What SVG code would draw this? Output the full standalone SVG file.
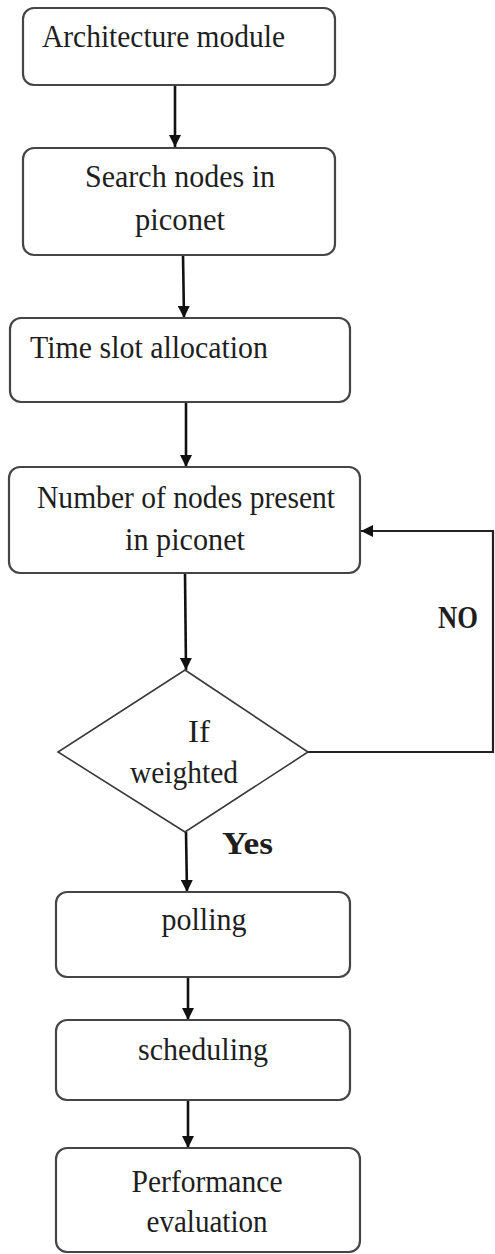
<svg xmlns="http://www.w3.org/2000/svg" width="495" height="1254" viewBox="0 0 495 1254">
<style>
.box{fill:#fff;stroke:#454545;stroke-width:2.2}
.dia{fill:#fff;stroke:#3a3a3a;stroke-width:1.6}
.t{font-family:'Liberation Serif','Times New Roman',serif;font-size:32px;fill:#1e1e1e}
.c{text-anchor:middle}
.b{font-weight:bold}
.ln{fill:none;stroke:#111;stroke-width:2.6}
.lp{fill:none;stroke:#222;stroke-width:2.2}
</style>
<defs>
<marker id="ah" markerUnits="userSpaceOnUse" markerWidth="14" markerHeight="12" refX="12" refY="6" orient="auto">
<path d="M0,0 L12,6 L0,12 Z" fill="#111"/>
</marker>
</defs>
<rect width="495" height="1254" fill="#fff"/>
<g id="connectors">
<line class="ln" x1="175" y1="85" x2="175" y2="147" marker-end="url(#ah)"/>
<line class="ln" x1="183" y1="255" x2="184" y2="318" marker-end="url(#ah)"/>
<line class="ln" x1="186" y1="402" x2="186" y2="467" marker-end="url(#ah)"/>
<line class="ln" x1="185" y1="573" x2="186" y2="670" marker-end="url(#ah)"/>
<line class="ln" x1="186" y1="832" x2="187" y2="892" marker-end="url(#ah)"/>
<line class="ln" x1="188" y1="977" x2="188" y2="1020" marker-end="url(#ah)"/>
<line class="ln" x1="188" y1="1100" x2="188" y2="1148" marker-end="url(#ah)"/>
<polyline class="lp" points="308,752 493,752 493,531 361,531" marker-end="url(#ah)"/>
<text class="t b" x="438" y="628" font-size="29" textLength="40" lengthAdjust="spacingAndGlyphs">NO</text>
<text class="t b" x="222" y="854" textLength="51" lengthAdjust="spacingAndGlyphs">Yes</text>
</g>
<g id="n1">
<rect class="box" x="23" y="8" width="312" height="77" rx="11"/>
<text class="t" x="42" y="47" textLength="243" lengthAdjust="spacingAndGlyphs">Architecture module</text>
</g>
<g id="n2">
<rect class="box" x="23" y="148" width="312" height="107" rx="11"/>
<text class="t c" x="180" y="187" textLength="190" lengthAdjust="spacingAndGlyphs">Search nodes in</text>
<text class="t c" x="180" y="230" textLength="90" lengthAdjust="spacingAndGlyphs">piconet</text>
</g>
<g id="n3">
<rect class="box" x="10" y="318" width="340" height="84" rx="11"/>
<text class="t" x="30" y="358" textLength="238" lengthAdjust="spacingAndGlyphs">Time slot allocation</text>
</g>
<g id="n4">
<rect class="box" x="9" y="467" width="351" height="106" rx="11"/>
<text class="t c" x="186" y="508" textLength="298" lengthAdjust="spacingAndGlyphs">Number of nodes present</text>
<text class="t c" x="185" y="550" textLength="120" lengthAdjust="spacingAndGlyphs">in piconet</text>
</g>
<g id="n5">
<polygon class="dia" points="185,670 308,752 185,832 58,752"/>
<text class="t c" x="199" y="742" textLength="22" lengthAdjust="spacingAndGlyphs">If</text>
<text class="t c" x="184" y="783" textLength="108" lengthAdjust="spacingAndGlyphs">weighted</text>
</g>
<g id="n6">
<rect class="box" x="56" y="892" width="294" height="85" rx="11"/>
<text class="t c" x="204" y="930" textLength="85" lengthAdjust="spacingAndGlyphs">polling</text>
</g>
<g id="n7">
<rect class="box" x="56" y="1020" width="294" height="80" rx="11"/>
<text class="t c" x="203" y="1060" textLength="130" lengthAdjust="spacingAndGlyphs">scheduling</text>
</g>
<g id="n8">
<rect class="box" x="56" y="1148" width="304" height="104" rx="11"/>
<text class="t c" x="207" y="1192" textLength="151" lengthAdjust="spacingAndGlyphs">Performance</text>
<text class="t c" x="207" y="1232" textLength="121" lengthAdjust="spacingAndGlyphs">evaluation</text>
</g>
</svg>
